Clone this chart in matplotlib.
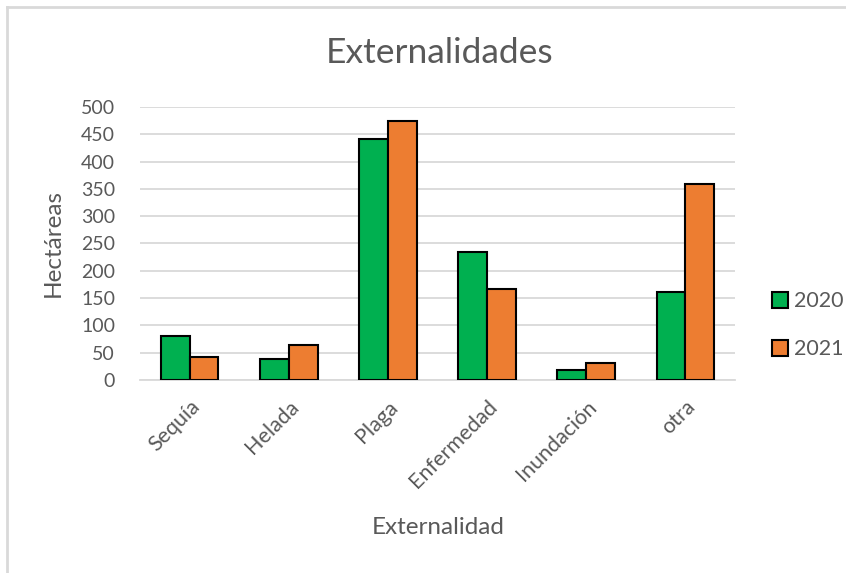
"""
Externalidades: hectáreas afectadas por tipo de externalidad, 2020 vs 2021.
"""

import numpy as np
import matplotlib

matplotlib.use("Agg")
import matplotlib.pyplot as plt
from matplotlib.lines import Line2D

categories = ["Sequía", "Helada", "Plaga", "Enfermedad", "Inundación", "otra"]
values_2020 = [80, 39, 442, 234, 19, 161]
values_2021 = [42, 64, 475, 167, 32, 359]
series_labels = ["2020", "2021"]
y_ticks = [0, 50, 100, 150, 200, 250, 300, 350, 400, 450, 500]

GREEN = "#00B050"
ORANGE = "#ED7D31"
TEXT = "#595959"
GRID = "#D9D9D9"

plt.rcParams["font.family"] = ["Lato", "DejaVu Sans"]


def main():
    """Draw the chart and save it."""
    fig = plt.figure(figsize=(8.46, 5.73), dpi=100)
    ax = fig.add_axes([0.1655, 0.3368, 0.7033, 0.4765])

    x = np.arange(len(categories))
    width = 0.29
    ax.bar(x - width / 2, values_2020, width, color=GREEN, edgecolor="black",
           linewidth=1.5, label=series_labels[0], zorder=3)
    ax.bar(x + width / 2, values_2021, width, color=ORANGE, edgecolor="black",
           linewidth=1.5, label=series_labels[1], zorder=3)

    ax.set_xlim(-0.5, len(categories) - 0.5)
    ax.set_ylim(0, 500)
    ax.set_yticks(y_ticks)
    ax.yaxis.grid(True, color=GRID, linewidth=1.3, zorder=0)
    for side in ["top", "right", "left"]:
        ax.spines[side].set_visible(False)
    ax.spines["bottom"].set_color(GRID)
    ax.spines["bottom"].set_linewidth(1.3)
    ax.tick_params(axis="both", length=0, colors=TEXT, labelsize=14)
    ax.tick_params(axis="y", pad=18)

    ax.set_xticks(x)
    ax.set_xticklabels(categories, rotation=45, ha="right",
                       rotation_mode="anchor", color=TEXT, fontsize=15.5)
    ax.tick_params(axis="x", pad=12)

    ax.set_ylabel("Hectáreas", color=TEXT, fontsize=17.5, labelpad=12)
    fig.text(0.518, 0.080, "Externalidad", ha="center", va="center",
             color=TEXT, fontsize=17.5)
    fig.text(0.520, 0.908, "Externalidades", ha="center", va="center",
             color=TEXT, fontsize=25.5)

    handles = [
        Line2D([], [], marker="s", linestyle="none", markersize=11,
               markerfacecolor=GREEN, markeredgecolor="black", markeredgewidth=1.5),
        Line2D([], [], marker="s", linestyle="none", markersize=11,
               markerfacecolor=ORANGE, markeredgecolor="black", markeredgewidth=1.5),
    ]
    leg = fig.legend(handles, series_labels, loc="center left",
                     bbox_to_anchor=(0.912, 0.432), frameon=False,
                     fontsize=15.5, labelspacing=1.3, handletextpad=0.25,
                     handlelength=0.8, borderpad=0, borderaxespad=0)
    for t in leg.get_texts():
        t.set_color(TEXT)

    # outer chart frame (top and left edges visible)
    fig.add_artist(Line2D([0.008, 0.008], [0, 0.987], color=GRID, linewidth=2))
    fig.add_artist(Line2D([0.008, 1], [0.987, 0.987], color=GRID, linewidth=2))

    fig.savefig("out.png", dpi=100)


if __name__ == "__main__":
    main()
